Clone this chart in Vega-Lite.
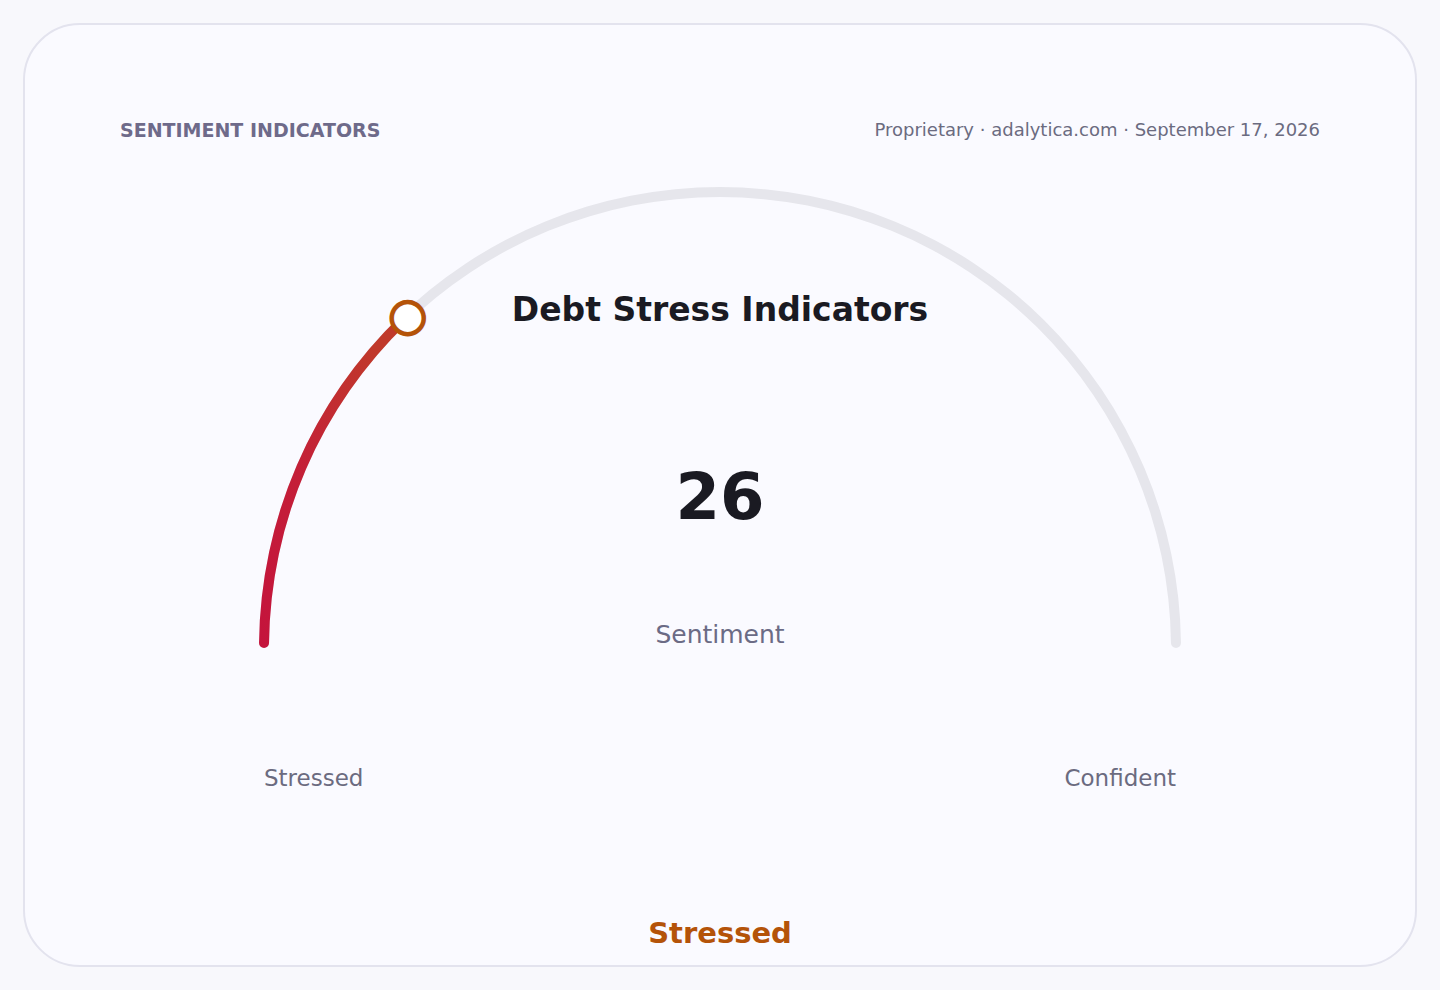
{
  "$schema": "https://vega.github.io/schema/vega-lite/v6.json",
  "width": 1440,
  "height": 990,
  "padding": 0,
  "autosize": {"type": "fit", "contains": "padding"},
  "background": "#f8f8fc",
  "config": {
    "view": {"stroke": null},
    "font": "DejaVu Sans",
    "text": {"font": "DejaVu Sans"}
  },
  "data": {
    "values": [
      {"indicator": "Debt Stress Indicators", "value": 26, "min": 0, "max": 100, "sentiment": "Stressed"}
    ]
  },
  "encoding": {
    "x": {"datum": 0, "type": "quantitative", "scale": {"domain": [-1.5789, 1.5789], "nice": false, "zero": false}, "axis": null},
    "y": {"datum": 0, "type": "quantitative", "scale": {"domain": [-0.75, 1.4211], "nice": false, "zero": false}, "axis": null}
  },
  "layer": [
    {
      "mark": {"type": "rect", "fill": "#fafaff", "stroke": "#e3e3ee", "strokeWidth": 2, "cornerRadius": 56},
      "encoding": {
        "x": {"datum": -1.5263, "type": "quantitative"},
        "x2": {"datum": 1.5263},
        "y": {"datum": 1.3684, "type": "quantitative"},
        "y2": {"datum": -0.6974}
      }
    },
    {
      "mark": {"type": "arc", "radius": 461, "radius2": 451, "cornerRadius": 5, "color": "#e6e6ec"},
      "encoding": {
        "theta": {"field": "min", "type": "quantitative", "scale": {"domain": [0, 100], "range": [-1.5708, 1.5708]}},
        "theta2": {"field": "max"}
      }
    },
    {
      "mark": {
        "type": "arc", "radius": 461, "radius2": 451, "cornerRadius": 5,
        "color": {
          "gradient": "linear", "x1": 0, "y1": 1, "x2": 0.6, "y2": 0,
          "stops": [{"offset": 0, "color": "#c4133c"}, {"offset": 0.5, "color": "#c41f38"}, {"offset": 1, "color": "#c0392b"}]
        }
      },
      "encoding": {
        "theta": {"field": "min", "type": "quantitative"},
        "theta2": {"field": "value"}
      }
    },
    {
      "mark": {"type": "text", "text": "●", "fontSize": 42, "fill": "#ffffff", "stroke": "#b45309", "strokeWidth": 4.5, "radius": 456, "align": "center", "baseline": "middle"},
      "encoding": {
        "theta": {"field": "value", "type": "quantitative"}
      }
    },
    {
      "mark": {"type": "text", "fontSize": 19, "fontWeight": "bold", "letterSpacing": 1, "color": "#6e6a8a", "align": "left", "baseline": "middle"},
      "encoding": {
        "x": {"datum": -1.3158, "type": "quantitative"},
        "y": {"datum": 1.1338, "type": "quantitative"},
        "text": {"value": "SENTIMENT INDICATORS"}
      }
    },
    {
      "mark": {"type": "text", "fontSize": 18, "color": "#6b6b80", "align": "right", "baseline": "middle"},
      "encoding": {
        "x": {"datum": 1.3158, "type": "quantitative"},
        "y": {"datum": 1.1338, "type": "quantitative"},
        "text": {"value": "Proprietary · adalytica.com · September 17, 2026"}
      }
    },
    {
      "mark": {"type": "text", "fontSize": 33, "fontWeight": "bold", "color": "#1a1a22", "align": "center", "baseline": "middle"},
      "encoding": {
        "y": {"datum": 0.7390, "type": "quantitative"},
        "text": {"field": "indicator"}
      }
    },
    {
      "mark": {"type": "text", "fontSize": 64, "fontWeight": "bold", "color": "#1a1a22", "align": "center", "baseline": "middle"},
      "encoding": {
        "y": {"datum": 0.3245, "type": "quantitative"},
        "text": {"field": "value"}
      }
    },
    {
      "mark": {"type": "text", "fontSize": 25, "color": "#6b6b85", "align": "center", "baseline": "middle"},
      "encoding": {
        "y": {"datum": 0.0285, "type": "quantitative"},
        "text": {"value": "Sentiment"}
      }
    },
    {
      "mark": {"type": "text", "fontSize": 23, "color": "#6b6b80", "align": "left", "baseline": "middle"},
      "encoding": {
        "x": {"datum": -1.0, "type": "quantitative"},
        "y": {"datum": -0.2873, "type": "quantitative"},
        "text": {"value": "Stressed"}
      }
    },
    {
      "mark": {"type": "text", "fontSize": 23, "color": "#6b6b80", "align": "right", "baseline": "middle"},
      "encoding": {
        "x": {"datum": 1.0, "type": "quantitative"},
        "y": {"datum": -0.2873, "type": "quantitative"},
        "text": {"value": "Confident"}
      }
    },
    {
      "mark": {"type": "text", "fontSize": 29, "fontWeight": "bold", "color": "#b45309", "align": "center", "baseline": "middle"},
      "encoding": {
        "y": {"datum": -0.6272, "type": "quantitative"},
        "text": {"field": "sentiment"}
      }
    }
  ]
}
